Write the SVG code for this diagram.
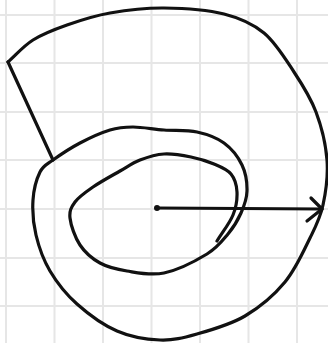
<svg xmlns="http://www.w3.org/2000/svg" width="328" height="343" viewBox="0 0 328 343">
<style>
.grid{stroke:#e6e6e6;stroke-width:2;fill:none}
.ink{stroke:#111;stroke-width:3.2;fill:none;stroke-linecap:round;stroke-linejoin:round}
</style>
<rect width="328" height="343" fill="#fff"/>
<g id="grid" class="grid">
<path d="M6 0V343M54.5 0V343M103 0V343M151.5 0V343M200 0V343M248.5 0V343M297 0V343"/>
<path d="M0 15H328M0 63H328M0 112H328M0 160H328M0 209H328M0 258H328M0 306H328"/>
</g>
<g id="spiral" class="ink">
<path d="M8 62 C16.3 54.7 23.2 46.2 33 40 S54.2 29.5 67 25 S93.8 15.8 110 13 S145 7.8 164 8 S207.3 9.8 224 14 S252.3 23.3 264 33 S285.3 58.8 294 72 S310.5 97.3 316 112 S325.8 144.5 327 160 S325.8 192 323 205 S316.3 225.2 310 238 S295.8 269 285 282 S259.7 307.3 245 316 S211.2 330 197 334 S173.3 340.5 160 340 S130.8 337 117 331 S88.2 314 77 304 S56.8 282.5 50 271 S38.8 246.8 36 235 S32.3 210.5 33 200 S36.7 178.7 40 172 S46.3 164.8 53 160 S70.5 148 80 143 S101.2 132.7 110 130 S124 127 133 127 S153.3 129.2 164 130 S187 129.8 197 132 S216.5 137.5 224 143 S238.2 157 242 165 S247.2 183 247 191 S244.2 205.8 241 213 S233.7 227.2 228 234 S217.7 247.5 207 254 S177.3 270.2 164 273 S137.7 272.7 127 271 S107.8 267.3 100 263 S85 252.5 80 245 S70.8 225.2 70 218 S71.2 207.2 75 202 S85.5 192.2 93 187 S112.2 175.5 120 171 S132.7 162.8 140 160 S155.5 154.5 164 154 S182.7 155.3 191 157 S207.3 161.2 214 164 S227.2 169.3 231 174 S236.7 185.2 237 192 S236.3 206.8 233 215 S222.3 232.3 217 241"/>
<path d="M8 62 L53 160"/>
</g>
<g id="connectors" class="ink">
<circle cx="157" cy="208" r="3" fill="#111" stroke="none"/>
<path d="M157 208 L322 209"/>
<path d="M311 198 L322 209 L307 221"/>
</g>
</svg>
